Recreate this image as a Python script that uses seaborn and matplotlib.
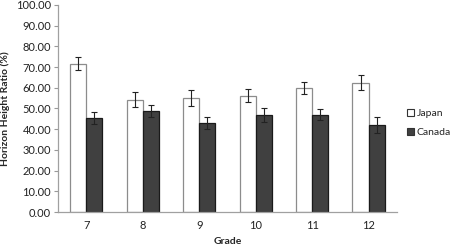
import matplotlib
matplotlib.use("Agg")
import matplotlib.pyplot as plt
import seaborn as sns
import pandas as pd

grades = ["7", "8", "9", "10", "11", "12"]
japan = [71.7, 54.3, 55.1, 56.2, 59.8, 62.5]
japan_err = [3.0, 3.8, 3.7, 3.1, 2.9, 3.5]
canada = [45.6, 48.6, 42.9, 46.7, 47.0, 42.0]
canada_err = [2.9, 2.9, 2.8, 3.4, 2.6, 3.7]
countries = ["Japan", "Canada"]

df = pd.DataFrame({
    "Grade": grades * 2,
    "Ratio": japan + canada,
    "Err": japan_err + canada_err,
    "Country": [countries[0]] * len(grades) + [countries[1]] * len(grades),
})

sns.set_style("white")
plt.rcParams["font.family"] = ["Lato", "DejaVu Sans"]

fig = plt.figure(figsize=(4.54, 2.46), dpi=100)
ax = fig.add_axes([0.128, 0.138, 0.746, 0.842])

sns.barplot(data=df, x="Grade", y="Ratio", hue="Country", order=grades,
            hue_order=countries, palette={"Japan": "white", "Canada": "#404040"},
            width=0.57, errorbar=None, ax=ax, legend=True)

edges = ["#8c8c8c", "#1a1a1a"]
for cont, edge in zip(ax.containers, edges):
    for p in cont:
        p.set_edgecolor(edge)
        p.set_linewidth(0.9)

# error bars from bar patches
for cont, errs in zip(ax.containers, [japan_err, canada_err]):
    xs = [p.get_x() + p.get_width() / 2 for p in cont]
    ys = [p.get_height() for p in cont]
    ax.errorbar(xs, ys, yerr=errs, fmt="none", ecolor="#222222",
                elinewidth=0.8, capsize=2.5, capthick=0.8)

ax.set_ylim(0, 100)
ax.set_yticks(range(0, 101, 10))
ax.set_yticklabels([f"{v:.2f}" for v in range(0, 101, 10)])
ax.set_xlim(-0.5, len(grades) - 0.5)
ax.tick_params(axis="both", labelsize=8, colors="#222222", length=0)
ax.tick_params(axis="x", pad=6)
ax.tick_params(axis="y", length=3, color="#999999", direction="out", left=True, pad=2)
for s in ["top", "right"]:
    ax.spines[s].set_visible(False)
for s in ["left", "bottom"]:
    ax.spines[s].set_color("#a0a0a0")
    ax.spines[s].set_linewidth(0.9)

ax.set_xlabel("Grade", fontsize=7.5, fontweight="bold", labelpad=4)
ax.set_ylabel("Horizon Height Ratio (%)", fontsize=7.5, fontweight="bold", labelpad=4)

handles, labels = ax.get_legend_handles_labels()
leg = ax.legend(handles, labels, loc="center left", bbox_to_anchor=(1.03, 0.43),
                frameon=False, fontsize=7.5, handlelength=0.7, handleheight=0.7,
                handletextpad=0.25, labelspacing=0.9, borderpad=0, borderaxespad=0)
for h in leg.legend_handles:
    h.set_edgecolor("#333333")
    h.set_linewidth(0.8)

fig.savefig("out.png", dpi=100)
